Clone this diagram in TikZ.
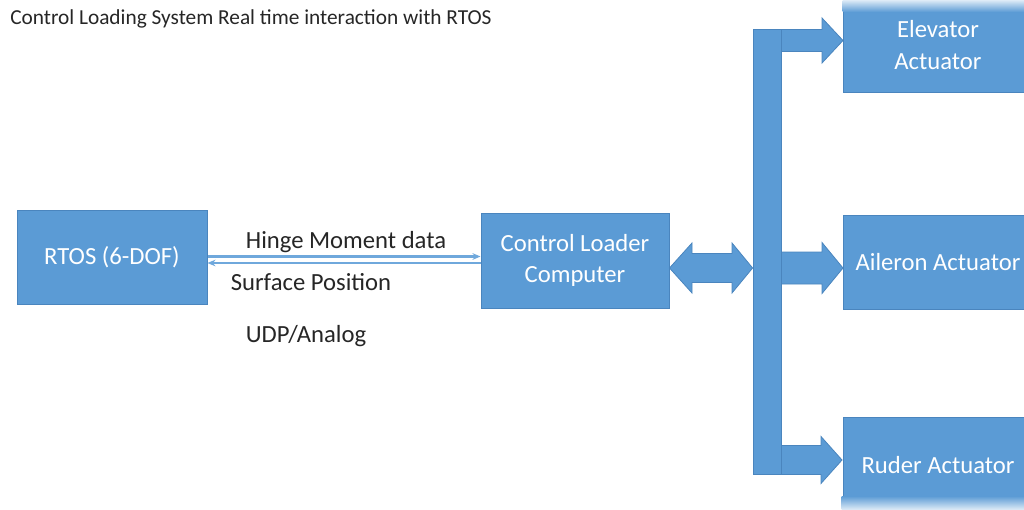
\documentclass[tikz,border=0pt]{standalone}
\usepackage{fontspec}
\setmainfont{Carlito}
\usetikzlibrary{calc,arrows.meta}
\definecolor{blu}{HTML}{5B9BD5}
\definecolor{bluedge}{HTML}{4A85BE}
\definecolor{linkc}{HTML}{6FA8DC}
\definecolor{txt}{HTML}{262626}
\begin{document}
\begin{tikzpicture}[x=0.75pt,y=-0.75pt,
  box/.style={draw=bluedge, fill=blu, line width=0.75pt, text=white,
    font=\fontsize{18.5}{23.5}\selectfont, align=center, inner sep=0pt,
    minimum width=142.5pt, minimum height=71pt},
  blk/.style={draw=bluedge, fill=blu, line width=0.6pt, line join=miter},
  lbl/.style={text=txt, font=\fontsize{18.5}{22}\selectfont, inner sep=0pt},
  link/.style={draw=linkc, line width=1.6pt, -{Stealth[length=6pt,width=5pt]}}]
\useasboundingbox (0,0) rectangle (1024,510);
\begin{scope}
\clip (0,0) rectangle (1024,510);
\node[anchor=west, inner sep=0pt, text=txt, font=\fontsize{16}{19}\selectfont] (title) at (10,19) {Control Loading System Real time interaction with RTOS};

\node[box, minimum width=142.5pt, minimum height=70.5pt] (rtos) at (112,257) {RTOS (6-DOF)};
\node[box, minimum width=141pt, minimum height=71.25pt] (clc) at (575,260.5) {Control Loader\\Computer};
\node[blk, inner sep=0pt, minimum width=21pt, minimum height=333.75pt] (bus) at (767,251.5) {};

% branch arrows
\draw[blk] (bus.east |- 0,29.5) -- (822,29.5) -- (822,18) -- (843,40.5) -- (822,63) -- (822,51.5) -- (bus.east |- 0,51.5) -- cycle;
\draw[blk] (bus.east |- 0,252) -- (822,252) -- (822,242.5) -- (843,268) -- (822,293.5) -- (822,284) -- (bus.east |- 0,284) -- cycle;
\draw[blk] (bus.east |- 0,445.5) -- (821,445.5) -- (821,436.5) -- (842,460) -- (821,483.5) -- (821,474.5) -- (bus.east |- 0,474.5) -- cycle;
% double arrow
\draw[blk] (clc.east |- 0,268) -- (692,243) -- (692,253.5) -- (732,253.5) -- (732,243) -- (bus.west |- 0,268) -- (732,293) -- (732,282.5) -- (692,282.5) -- (692,293) -- cycle;
\node[blk, inner sep=0pt, minimum width=21pt, minimum height=333.75pt] at (bus) {};

\node[box] (elev) at (938,45) {Elevator\\Actuator};
\shade[top color=white, bottom color=blu] (842.5,-3) rectangle (1034,12);
\node[box] (ail) at (938,262.5) {Aileron Actuator};
\node[box] (rud) at (938,465) {Ruder Actuator};
\shade[top color=blu, bottom color=white] (841.5,496) rectangle (1034,513);

% data links
\draw[link] (rtos.east |- 0,256.5) -- (clc.west |- 0,256.5);
\draw[link] (clc.west |- 0,263) -- (rtos.east |- 0,263);

\node[lbl] (hinge) at (346,242) {Hinge Moment data};
\node[lbl] (surf) at (311,282) {Surface Position};
\node[lbl] (udp) at (306,336) {UDP/Analog};
\end{scope}
\end{tikzpicture}
\end{document}
